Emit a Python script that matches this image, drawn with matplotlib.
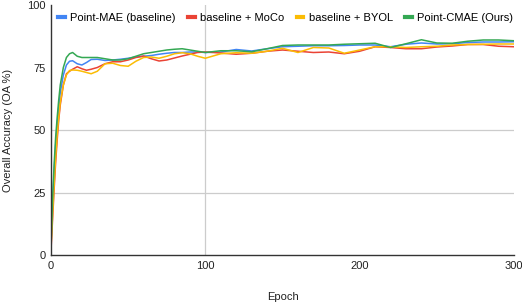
import matplotlib.pyplot as plt

plt.rcParams['font.family'] = ['Liberation Sans', 'DejaVu Sans']

epochs = [0, 1, 2, 3, 4, 5, 6, 8, 10, 12, 14, 17, 20, 23, 26, 30, 35, 40, 45, 50,
          55, 60, 65, 70, 75, 80, 85, 90, 95, 100, 110, 120, 130, 140, 150, 160,
          170, 180, 190, 200, 210, 220, 230, 240, 250, 260, 270, 280, 290, 300]

point_mae = [5, 20, 33, 44, 52, 59, 65, 72, 76, 77.5, 77.7, 76.5, 76, 77, 78.2, 78.3,
             77.8, 78, 78.3, 78.7, 79.2, 79.5, 79.8, 80.3, 80.7, 81, 81, 81.2, 81.2, 81,
             81.2, 82.2, 81.6, 82.5, 83.3, 83.5, 83.7, 83.7, 83.8, 84, 84, 83.3, 84.3,
             84.8, 84.4, 84.5, 85, 85.2, 85.2, 85.3]
moco = [2, 14, 26, 37, 46, 54, 60, 68, 72.5, 73.5, 74.3, 75.3, 74.5, 73.9, 74.3, 75,
        76.5, 77.3, 77.3, 78, 79, 79.6, 78.5, 77.6, 78, 78.8, 79.6, 80.3, 81, 81.2,
        80.8, 80.3, 80.7, 81.5, 82, 81.5, 81, 81.2, 80.5, 81.5, 83.3, 83, 82.5, 82.5,
        83.2, 83.6, 84.2, 84.2, 83.5, 83.3]
byol = [3, 16, 28, 39, 48, 55, 61, 68, 72, 73.8, 74, 73.9, 73.5, 73, 72.5, 73.5,
        76.5, 76.7, 75.8, 75.5, 77.5, 79, 79.2, 78.7, 79.5, 80.5, 80.9, 80.5, 79.5,
        78.7, 80.5, 80.9, 80.7, 81.5, 82.7, 81, 83, 82.8, 80.7, 82, 83.3, 83.3, 83,
        83.3, 83.5, 84, 84.2, 84.3, 84.4, 84.4]
point_cmae = [3, 22, 36, 47, 55, 62, 68, 75, 79, 80.5, 81, 79.5, 79, 79, 79, 79, 78.5,
              78, 78, 78.5, 79.5, 80.5, 81, 81.5, 82, 82.3, 82.5, 82, 81.5, 81, 81.7,
              81.7, 81.3, 82.5, 83.8, 84, 84, 84, 84.3, 84.5, 84.7, 83, 84.5, 86.1,
              84.8, 84.7, 85.5, 86, 86, 85.7]

labels = ['Point-MAE (baseline)', 'baseline + MoCo', 'baseline + BYOL', 'Point-CMAE (Ours)']
colors = ['#4285F4', '#EA4335', '#FBBC04', '#34A853']

# the source chart only shows these gridlines
grid_y = [25, 50]
grid_x = [100]

fig = plt.figure(figsize=(5.22, 3.04), dpi=100)
ax = fig.add_axes([0.0977, 0.161, 0.887, 0.8226])

for gy in grid_y:
    ax.axhline(gy, color='#cccccc', lw=0.9, zorder=0)
for gx in grid_x:
    ax.axvline(gx, color='#cccccc', lw=0.9, zorder=0)

for ys, lab, c in zip([point_mae, moco, byol, point_cmae], labels, colors):
    ax.plot(epochs, ys, color=c, lw=1.1, label=lab)

ax.set_xlim(0, 300)
ax.set_ylim(0, 100)
ax.set_xticks([0, 100, 200, 300])
ax.set_yticks([0, 25, 50, 75, 100])
ax.tick_params(length=0, labelsize=8, colors='#222222', pad=4)
for s in ['top', 'right']:
    ax.spines[s].set_visible(False)
for s in ['left', 'bottom']:
    ax.spines[s].set_color('#333333')
    ax.spines[s].set_linewidth(1)

ax.set_xlabel('Epoch', fontsize=8, color='#222222', va='center')
ax.set_ylabel('Overall Accuracy (OA %)', fontsize=8, color='#222222', va='center')
ax.xaxis.set_label_coords(0.50, -0.168)
ax.yaxis.set_label_coords(-0.093, 0.5)

leg = ax.legend(loc='upper center', ncol=4, frameon=False, fontsize=8,
                handlelength=0.6, handletextpad=0.5, columnspacing=1.1,
                bbox_to_anchor=(0.507, 1.0), borderaxespad=0.35)
for h in leg.legend_handles:
    h.set_linewidth(3)

fig.savefig('out.png', dpi=100)
